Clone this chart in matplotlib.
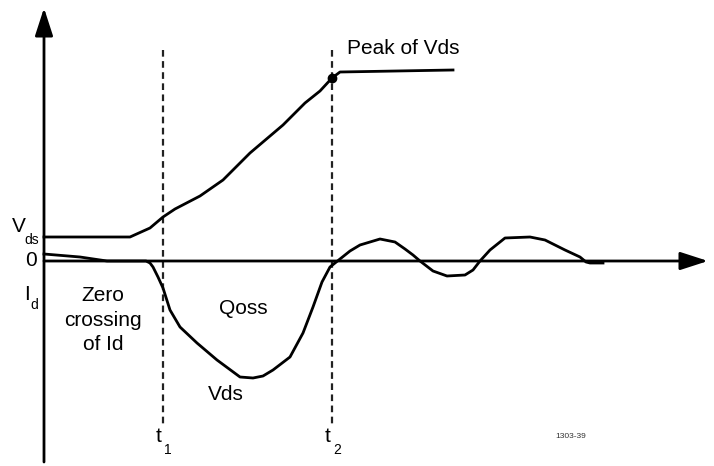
import matplotlib.pyplot as plt

plt.rcParams['font.family'] = ['Liberation Sans', 'DejaVu Sans']

# Vds trace (upper curve) in pixel units (y grows downward)
vds_x = [44, 130, 150, 163, 175, 200, 223, 250, 283, 305, 320, 332, 340, 453]
vds_y = [237, 237, 228, 217, 209, 196, 180, 153, 125, 103, 91, 78, 72, 70]

# Id trace (lower curve)
id_x = [44, 80, 107, 146, 150, 153, 158, 163, 170, 180, 197, 217, 240, 253, 263,
        273, 290, 303, 313, 322, 330, 340, 350, 360, 380, 395, 405, 413, 420,
        433, 447, 465, 473, 480, 490, 505, 530, 545, 565, 580, 586, 590, 603]
id_y = [254, 257, 261, 261, 263, 267, 277, 288, 310, 327, 343, 360, 377, 378, 376,
        370, 357, 333, 307, 282, 267, 259, 251, 245, 239, 242, 249, 255, 261,
        271, 276, 275, 270, 261, 250, 238, 237, 240, 250, 257, 262, 263, 263]

peak = (332, 78)
t_marks = [163, 332]
t_labels = ['1', '2']

fig = plt.figure(figsize=(7.14, 4.66), dpi=100)
ax = fig.add_axes([0, 0, 1, 1])
ax.set_xlim(0, 714)
ax.set_ylim(466, 0)
ax.axis('off')

# axes with arrow heads
arrow = dict(arrowstyle='-|>,head_length=1.7,head_width=0.55', color='black',
             lw=2, mutation_scale=10, shrinkA=0, shrinkB=0)
ax.annotate('', xy=(44, 8), xytext=(44, 462), arrowprops=arrow)
ax.annotate('', xy=(708, 261), xytext=(44, 261), arrowprops=arrow)

# dashed time markers
for x in t_marks:
    ax.plot([x, x], [50, 424], color='#222222', lw=1.6, ls=(0, (3, 2)))

ax.plot(vds_x, vds_y, color='black', lw=2, solid_joinstyle='round')
ax.plot(id_x, id_y, color='black', lw=2, solid_joinstyle='round')
ax.plot(*peak, 'o', color='black', ms=6)

fs = 15
ax.text(12, 226, 'V', fontsize=fs, va='center', ha='left')
ax.text(24, 240, 'ds', fontsize=10, va='center', ha='left')
ax.text(31, 261, '0', fontsize=fs, va='center', ha='center')
ax.text(27, 295, 'I', fontsize=fs, va='center', ha='center')
ax.text(30, 305, 'd', fontsize=10, va='center', ha='left')
ax.text(103, 320, 'Zero\ncrossing\nof Id', fontsize=fs, va='center', ha='center',
        linespacing=1.35)
ax.text(243, 309, 'Qoss', fontsize=fs, va='center', ha='center')
ax.text(226, 395, 'Vds', fontsize=fs, va='center', ha='center')
ax.text(347, 49, 'Peak of Vds', fontsize=fs, va='center', ha='left')
for x, lab in zip(t_marks, t_labels):
    ax.text(x - 4, 436, 't', fontsize=fs, va='center', ha='center')
    ax.text(x + 1, 450, lab, fontsize=10, va='center', ha='left')
ax.text(555, 436, '1303-39', fontsize=6, va='center', ha='left', color='#333333')

fig.savefig('out.png', dpi=100)
